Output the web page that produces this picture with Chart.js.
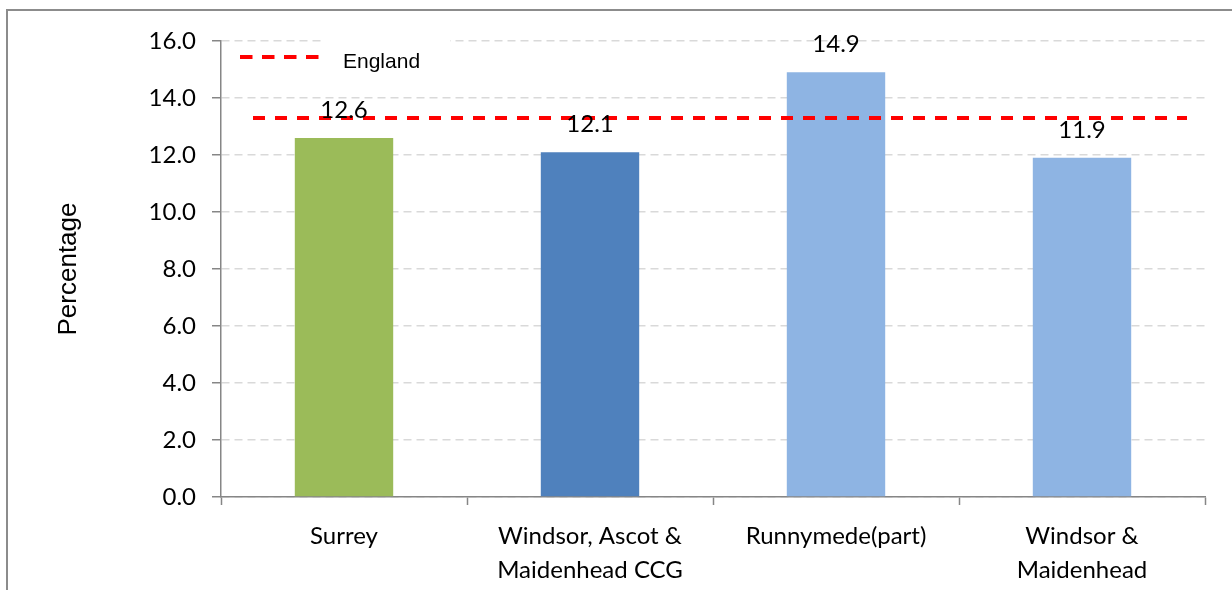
<!DOCTYPE html>
<html>
<head>
<meta charset="utf-8">
<script src="https://cdn.jsdelivr.net/npm/chart.js@4.4.0/dist/chart.umd.min.js"></script>
<style>
  html, body { margin: 0; padding: 0; background: #fff; }
  #wrap { width: 1232px; height: 590px; position: relative; }
</style>
</head>
<body>
<div id="wrap"><canvas id="myChart"></canvas></div>
<script>
/* global Chart */

const categories = ['Surrey', ['Windsor, Ascot &', 'Maidenhead CCG'], 'Runnymede(part)', ['Windsor &', 'Maidenhead']];
const percentages = [12.6, 12.1, 14.9, 11.9];
const barColours = ['#9BBB59', '#4F81BD', '#8EB4E3', '#8EB4E3'];
const englandValue = 13.3;
const englandLabel = 'England';
const yMin = 0;
const yMax = 16;
const yStep = 2;
const yTitle = 'Percentage';

const tickFont = { family: 'Lato', size: 24 };

// frame round the whole chart, cut off at right and bottom like the original
const framePlugin = {
  id: 'frame',
  beforeDraw: function (chart) {
    const ctx = chart.ctx;
    ctx.save();
    ctx.fillStyle = '#fff';
    ctx.fillRect(0, 0, chart.width, chart.height);
    ctx.strokeStyle = '#8c8c8c';
    ctx.lineWidth = 2;
    ctx.strokeRect(7, 10, chart.width + 20, chart.height + 20);
    ctx.restore();
  }
};

// England reference line, value labels and legend
const extrasPlugin = {
  id: 'extras',
  beforeDatasetsDraw: function (chart) {
    const ctx = chart.ctx;
    const area = chart.chartArea;
    // legend box hides part of top gridline
    ctx.save();
    ctx.fillStyle = '#fff';
    ctx.fillRect(area.left + 102, area.top - 3, 127, 6);
    ctx.restore();
  },
  afterDatasetsDraw: function (chart) {
    const ctx = chart.ctx;
    const area = chart.chartArea;
    const y = chart.scales.y.getPixelForValue(englandValue);

    ctx.save();
    ctx.strokeStyle = '#FF0000';
    ctx.lineWidth = 4;
    ctx.setLineDash([12, 10]);
    ctx.beginPath();
    ctx.moveTo(area.left + 32, y);
    ctx.lineTo(area.right - 18, y);
    ctx.stroke();
    ctx.restore();

    const meta = chart.getDatasetMeta(0);
    ctx.save();
    ctx.fillStyle = '#000';
    ctx.font = tickFont.size + 'px ' + tickFont.family;
    ctx.textAlign = 'center';
    ctx.textBaseline = 'alphabetic';
    meta.data.forEach(function (bar, i) {
      ctx.fillText(percentages[i].toFixed(1), bar.x, bar.y - 20);
    });
    ctx.restore();
  },
  afterDraw: function (chart) {
    const ctx = chart.ctx;
    const area = chart.chartArea;
    ctx.save();
    ctx.strokeStyle = '#FF0000';
    ctx.lineWidth = 4;
    ctx.setLineDash([12.5, 9.5]);
    ctx.beginPath();
    ctx.moveTo(area.left + 19, area.top + 16);
    ctx.lineTo(area.left + 99, area.top + 16);
    ctx.stroke();
    ctx.setLineDash([]);
    ctx.fillStyle = '#000';
    ctx.font = '21px "Liberation Sans", Arial, sans-serif';
    ctx.textAlign = 'left';
    ctx.textBaseline = 'alphabetic';
    ctx.fillText(englandLabel, area.left + 122, area.top + 27);
    ctx.restore();
  }
};

const chart1 = document.getElementById('myChart').getContext('2d');

new Chart(chart1, {
  type: 'bar',
  data: {
    labels: categories,
    datasets: [{
      label: 'Percentage',
      data: percentages,
      backgroundColor: barColours,
      borderWidth: 0,
      categoryPercentage: 1,
      barPercentage: 0.4
    }]
  },
  options: {
    responsive: true,
    maintainAspectRatio: false,
    animation: false,
    layout: {
      padding: { left: 0, top: 41, right: 27, bottom: 0 }
    },
    plugins: {
      legend: { display: false },
      tooltip: { enabled: false }
    },
    scales: {
      x: {
        offset: true,
        grid: {
          offset: true,
          drawOnChartArea: false,
          drawTicks: true,
          tickLength: 8,
          tickColor: '#868686',
          tickWidth: 1.5
        },
        border: { color: '#868686', width: 1.5 },
        ticks: {
          color: '#000',
          font: { family: 'Lato', size: 24, lineHeight: 1.42 },
          padding: 14,
          maxRotation: 0,
          autoSkip: false
        },
        afterFit: function (scale) { scale.height = 93; }
      },
      y: {
        min: yMin,
        max: yMax,
        ticks: {
          stepSize: yStep,
          color: '#000',
          font: tickFont,
          padding: 16,
          callback: function (v) { return v.toFixed(1); }
        },
        grid: {
          color: '#D9D9D9',
          lineWidth: 1.5,
          tickLength: 9,
          tickColor: '#868686',
          tickWidth: 1.5,
          tickBorderDash: []
        },
        border: { color: '#868686', width: 1.5, dash: [8, 5] },
        title: {
          display: true,
          text: yTitle,
          color: '#000',
          font: { family: '"Liberation Sans", Arial, sans-serif', size: 26 },
          padding: { top: 53, bottom: 0 }
        },
        afterFit: function (scale) { scale.width = 221; }
      }
    }
  },
  plugins: [framePlugin, extrasPlugin]
});
</script>
</body>
</html>
